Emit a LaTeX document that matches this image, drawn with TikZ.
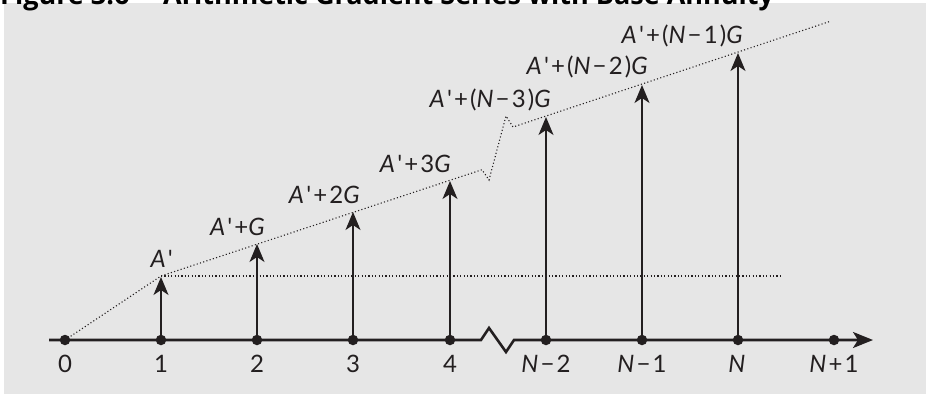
\documentclass[tikz,border=0pt]{standalone}
\usepackage{fontspec}
\newfontfamily\labfont{Lato}[LetterSpace=9]
\newfontfamily\titlefont{Open Sans}
\usetikzlibrary{arrows.meta}
\definecolor{bg}{HTML}{E6E6E6}
\definecolor{ink}{HTML}{231F20}
\begin{document}
\begin{tikzpicture}[x=1pt,y=-1pt,
  lab/.style={font=\labfont\fontsize{24}{24}\selectfont, inner sep=0pt, text=ink},
  ttl/.style={font=\titlefont\bfseries\fontsize{27}{27}\selectfont, inner sep=0pt, text=black, anchor=base west},
  tick/.style={circle, fill=ink, inner sep=0pt, minimum size=10.5pt},
  cash/.style={line width=1.6pt, draw=ink, -{Stealth[length=18pt,width=15pt,inset=5pt]}},
  axisline/.style={line width=2.6pt, draw=ink, -{Stealth[length=20pt,width=16pt,inset=5pt]}},
  dotline/.style={line width=1.1pt, dash pattern=on 1.1pt off 2.3pt, draw=ink}
]
\useasboundingbox (0,0) rectangle (926,394);
\fill[bg] (4,3) rectangle (926,393.5);
% title (cut by the page edge)
\node[ttl] (title1) at (0,4) {Figure 3.6};
\node[ttl] (title2) at (163,4) {Arithmetic Gradient Series with Base Annuity};
% axis
\coordinate (ax0) at (49,340);
\coordinate (zA) at (481,340);
\coordinate (zB) at (489,328);
\coordinate (zC) at (506,352);
\coordinate (zD) at (514,340);
\coordinate (axend) at (873,340);
\draw[axisline] (ax0) -- (zA) -- (zB) -- (zC) -- (zD) -- (axend);
% cash-flow tips
\coordinate (p1) at (161,277);
\coordinate (p2) at (257,244);
\coordinate (p3) at (353,212);
\coordinate (p4) at (450,181);
\coordinate (p5) at (546,117);
\coordinate (p6) at (642,85);
\coordinate (p7) at (738,53);
% dotted guide lines
\coordinate (h1) at (161,276);
\coordinate (hend) at (783,276);
\coordinate (b1) at (482,169.7);
\coordinate (b2) at (489,180);
\coordinate (b3) at (506,116);
\coordinate (b4) at (513,127);
\coordinate (gend) at (831,21);
\draw[dotline] (65,340) -- (h1) -- (b1) -- (b2) -- (b3) -- (b4) -- (gend);
\draw[dotline] (h1) -- (hend);
% ticks
\node[tick] (t0) at (65,340) {};
\node[tick] (t1) at (161,340) {};
\node[tick] (t2) at (257,340) {};
\node[tick] (t3) at (353,340) {};
\node[tick] (t4) at (450,340) {};
\node[tick] (t5) at (546,340) {};
\node[tick] (t6) at (642,340) {};
\node[tick] (t7) at (738,340) {};
\node[tick] (t8) at (834,340) {};
% cash arrows
\draw[cash] (t1.center) -- (p1);
\draw[cash] (t2.center) -- (p2);
\draw[cash] (t3.center) -- (p3);
\draw[cash] (t4.center) -- (p4);
\draw[cash] (t5.center) -- (p5);
\draw[cash] (t6.center) -- (p6);
\draw[cash] (t7.center) -- (p7);
% axis labels
\node[lab, anchor=base] (n0) at (65,372) {0};
\node[lab, anchor=base] (n1) at (161,372) {1};
\node[lab, anchor=base] (n2) at (257,372) {2};
\node[lab, anchor=base] (n3) at (353,372) {3};
\node[lab, anchor=base] (n4) at (450,372) {4};
\node[lab, anchor=base] (n5) at (546,372) {\textit{N}−2};
\node[lab, anchor=base] (n6) at (642,372) {\textit{N}−1};
\node[lab, anchor=base] (n7) at (738,372) {\textit{N}};
\node[lab, anchor=base] (n8) at (834,372) {\textit{N}+1};
% amount labels
\node[lab, anchor=base east] (a1) at (173,267) {\textit{A}'};
\node[lab, anchor=base east] (a2) at (267,235) {\textit{A}'+\textit{G}};
\node[lab, anchor=base east] (a3) at (362,203) {\textit{A}'+2\textit{G}};
\node[lab, anchor=base east] (a4) at (453,172) {\textit{A}'+3\textit{G}};
\node[lab, anchor=base east] (a5) at (553,107) {\textit{A}'+(\textit{N}−3)\textit{G}};
\node[lab, anchor=base east] (a6) at (650,74) {\textit{A}'+(\textit{N}−2)\textit{G}};
\node[lab, anchor=base east] (a7) at (745,43) {\textit{A}'+(\textit{N}−1)\textit{G}};
\end{tikzpicture}
\end{document}
